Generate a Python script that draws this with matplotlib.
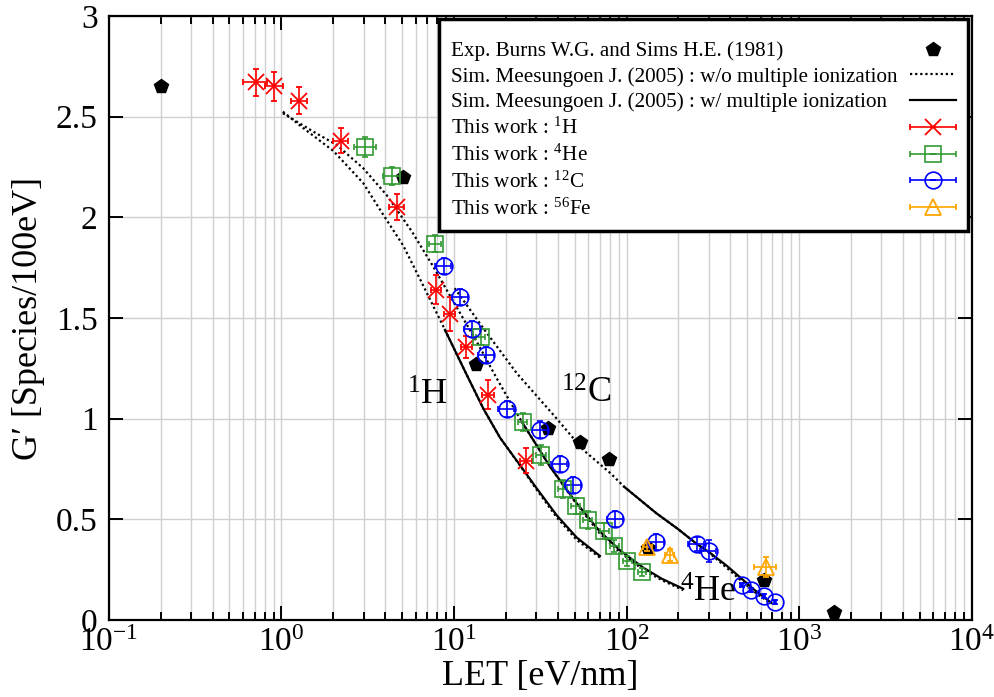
import matplotlib
matplotlib.use("Agg")
import matplotlib.pyplot as plt
from matplotlib.container import ErrorbarContainer
from matplotlib.legend_handler import HandlerErrorbar
from matplotlib.ticker import LogLocator, LogFormatterMathtext, MultipleLocator, FormatStrFormatter, NullFormatter

plt.rcParams['font.family'] = ['Liberation Serif', 'DejaVu Serif']
plt.rcParams['mathtext.fontset'] = 'custom'
plt.rcParams['mathtext.rm'] = 'Liberation Serif'
plt.rcParams['mathtext.it'] = 'Liberation Serif:italic'
plt.rcParams['mathtext.bf'] = 'Liberation Serif:bold'

# Exp. Burns W.G. and Sims H.E. (1981)
burns_let = [0.2, 5.1, 13.5, 35, 54, 79, 133, 630, 1590]
burns_g = [2.65, 2.2, 1.27, 0.955, 0.883, 0.80, 0.36, 0.2, 0.041]

# This work
h1_let = [0.71, 0.91, 1.27, 2.22, 4.66, 7.9, 9.45, 11.8, 15.8, 26.2]
h1_g = [2.67, 2.65, 2.58, 2.38, 2.05, 1.64, 1.52, 1.355, 1.12, 0.79]
h1_let_err = [0.11, 0.11, 0.14, 0.22, 0.45, 0.55, 0.7, 0.85, 1.2, 2.0]
h1_g_err = [0.065, 0.07, 0.065, 0.062, 0.065, 0.072, 0.083, 0.054, 0.072, 0.062]

he4_let = [3.07, 4.36, 7.8, 14.3, 25.0, 32.0, 42.8, 50.8, 59.7, 74.3, 85, 101, 123]
he4_g = [2.35, 2.205, 1.87, 1.405, 0.985, 0.82, 0.65, 0.566, 0.495, 0.442, 0.366, 0.292, 0.238]
he4_let_err = [0.45, 0.5, 0.6, 0.9, 1.6, 2.0, 2.5, 3.0, 3.5, 4.5, 5, 6, 7]
he4_g_err = [0.05, 0.045, 0.04, 0.04, 0.045, 0.05, 0.045, 0.04, 0.045, 0.04, 0.03, 0.025, 0.02]

c12_let = [8.7, 10.9, 12.8, 15.4, 20.2, 31.6, 41, 49, 86, 148, 255, 300, 465, 525, 625, 722]
c12_g = [1.757, 1.604, 1.445, 1.317, 1.047, 0.946, 0.775, 0.671, 0.502, 0.389,
         0.378, 0.343, 0.172, 0.147, 0.12, 0.087]
c12_let_err = [0.9, 1.1, 1.3, 1.6, 2.1, 3.3, 4.3, 5.2, 9, 16, 27, 32, 8, 8, 10, 10]
c12_g_err = [0.04, 0.04, 0.04, 0.04, 0.04, 0.04, 0.04, 0.04, 0.04, 0.04,
             0.035, 0.055, 0.01, 0.01, 0.01, 0.01]

fe56_let = [132, 178, 640]
fe56_g = [0.362, 0.325, 0.264]
fe56_let_err = [8, 10, 95]
fe56_g_err = [0.02, 0.03, 0.05]

# Sim. Meesungoen J. (2005)
h1_wo_let = [1.02, 1.34, 2.0, 2.98, 3.98, 5.08, 6.3, 8.87, 11.9, 14.8, 18.5, 24.1, 30.1,
             39.4, 51.4, 70.1]
h1_wo_g = [2.525, 2.443, 2.33, 2.17, 2.0, 1.86, 1.70, 1.441, 1.215, 1.05, 0.905, 0.768,
           0.648, 0.51, 0.398, 0.31]
h1_w_let = [8.87, 11.9, 14.8, 18.5, 24.1, 30.1, 39.4, 51.4, 70.1]
h1_w_g = [1.441, 1.215, 1.05, 0.905, 0.77, 0.655, 0.52, 0.41, 0.318]

he4_wo_let = [1.02, 1.53, 2.09, 2.98, 4.07, 5.7, 7.59, 10.1, 13.5, 17.7, 23.1, 24.7, 36,
              51.4, 70, 92, 125, 160, 213]
he4_wo_g = [2.517, 2.426, 2.36, 2.244, 2.111, 1.93, 1.755, 1.57, 1.385, 1.2, 1.027, 0.985,
            0.762, 0.575, 0.43, 0.335, 0.25, 0.198, 0.148]
he4_w_let = [24.7, 36, 51.4, 70, 92, 125, 160, 213]
he4_w_g = [0.985, 0.762, 0.58, 0.44, 0.345, 0.26, 0.205, 0.155]

c12_wo_let = [10.1, 14.8, 23.1, 38.5, 56.1, 80.7, 96.8, 149, 200, 255, 300, 380, 465, 550,
              625, 690]
c12_wo_g = [1.648, 1.449, 1.226, 1.01, 0.845, 0.729, 0.662, 0.53, 0.45, 0.378, 0.335, 0.26,
            0.193, 0.14, 0.106, 0.08]
c12_w_let = [96.8, 149, 200, 255, 300, 380, 465, 550, 625, 690]
c12_w_g = [0.662, 0.53, 0.45, 0.378, 0.338, 0.27, 0.205, 0.15, 0.114, 0.085]

fig = plt.figure(figsize=(9.94, 6.97), dpi=100)
ax = fig.add_axes([0.1095, 0.1105, 0.868, 0.8665])

dot = (0, (1, 1.3))
wo_line, = ax.plot(h1_wo_let, h1_wo_g, color='black', lw=1.6, ls=dot, zorder=2)
ax.plot(he4_wo_let, he4_wo_g, color='black', lw=1.6, ls=dot, zorder=2)
ax.plot(c12_wo_let, c12_wo_g, color='black', lw=1.6, ls=dot, zorder=2)
w_line, = ax.plot(h1_w_let, h1_w_g, color='black', lw=1.6, zorder=2)
ax.plot(he4_w_let, he4_w_g, color='black', lw=1.6, zorder=2)
ax.plot(c12_w_let, c12_w_g, color='black', lw=1.6, zorder=2)

burns, = ax.plot(burns_let, burns_g, 'p', color='black', ms=10, ls='none', zorder=3)

eb = dict(elinewidth=1.2, capsize=2.5, capthick=1.2, ls='none', zorder=4)
h1 = ax.errorbar(h1_let, h1_g, xerr=h1_let_err, yerr=h1_g_err, fmt='x', color='#ff0000',
                 ms=11, mew=1.3, **eb)
he4 = ax.errorbar(he4_let, he4_g, xerr=he4_let_err, yerr=he4_g_err, fmt='s', color='#339933',
                  mfc='none', ms=11, mew=1.2, **eb)
c12 = ax.errorbar(c12_let, c12_g, xerr=c12_let_err, yerr=c12_g_err, fmt='o', color='#0000ff',
                  mfc='none', ms=12, mew=1.2, **eb)
fe56 = ax.errorbar(fe56_let, fe56_g, xerr=fe56_let_err, yerr=fe56_g_err, fmt='^', color='#ffa500',
                   mfc='none', ms=12, mew=1.3, **eb)

ax.text(7.06, 1.11, '$^{1}$H', fontsize=26, ha='center', va='center')
ax.text(58.7, 1.12, '$^{12}$C', fontsize=26, ha='center', va='center')
ax.text(296, 0.134, '$^{4}$He', fontsize=26, ha='center', va='center')

ax.set_xscale('log')
ax.set_xlim(0.1, 1e4)
ax.set_ylim(0, 3)
ax.xaxis.set_major_locator(LogLocator(base=10, numticks=10))
ax.xaxis.set_minor_locator(LogLocator(base=10, subs=range(2, 10), numticks=20))
ax.xaxis.set_major_formatter(LogFormatterMathtext())
ax.xaxis.set_minor_formatter(NullFormatter())
ax.yaxis.set_major_locator(MultipleLocator(0.5))
ax.yaxis.set_major_formatter(FormatStrFormatter('%g'))

ax.grid(True, which='both', axis='x', color='#d0d0d0', lw=1.0)
ax.grid(True, which='major', axis='y', color='#d0d0d0', lw=1.0)
ax.set_axisbelow(True)
ax.tick_params(which='both', direction='in', top=True, right=True, labelsize=24, width=1.4)
ax.tick_params(which='major', length=10)
ax.tick_params(which='minor', length=6)
ax.tick_params(axis='x', which='major', pad=5)
ax.tick_params(axis='y', which='major', pad=8)
for s in ax.spines.values():
    s.set_linewidth(1.6)

ax.set_xlabel('LET [eV/nm]', fontsize=26, labelpad=2)
ax.set_ylabel('G\u2032 [Species/100eV]', fontsize=26, labelpad=8)

handles = [burns, wo_line, w_line, h1, he4, c12, fe56]
labels = ['Exp. Burns W.G. and Sims H.E. (1981)',
          'Sim. Meesungoen J. (2005) : w/o multiple ionization',
          'Sim. Meesungoen J. (2005) : w/ multiple ionization',
          'This work : $^{1}$H', 'This work : $^{4}$He',
          'This work : $^{12}$C', 'This work : $^{56}$Fe']
leg = ax.legend(handles, labels, loc='upper right', bbox_to_anchor=(0.9954, 0.995),
                borderaxespad=0, fontsize=15.2, markerfirst=False, fancybox=False,
                edgecolor='black', framealpha=1, handlelength=2.2, handletextpad=0.5,
                labelspacing=0.27, borderpad=0.55, numpoints=1,
                title=' ', title_fontsize=5,
                handler_map={ErrorbarContainer: HandlerErrorbar(xerr_size=1.1, yerr_size=0.0, numpoints=1)})
leg.get_frame().set_linewidth(2.5)
# gnuplot style: text left aligned, keys flush right
for col in leg._legend_handle_box.get_children():
    col.set_width(505)
    for row in col.get_children():
        row.mode = 'expand'

fig.savefig('out.png', dpi=100)
